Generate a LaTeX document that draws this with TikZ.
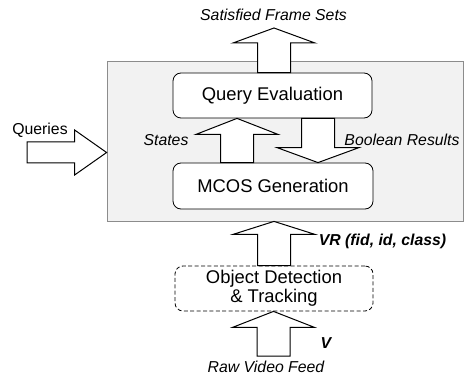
\documentclass[tikz,border=0pt]{standalone}
\usepackage{fontspec}
\setmainfont{Liberation Sans}
\usetikzlibrary{calc,fit,positioning}
\definecolor{enginegrey}{gray}{0.95}
\definecolor{edgegrey}{gray}{0.55}

% block arrow: tail, tip, half shaft width, half head width, head length
\newcommand{\fatarrow}[5]{%
  \coordinate (fah) at ($(#2)!#5!(#1)$);
  \draw[fatline] ($(#1)!#3!90:(#2)$) -- ($(fah)!#3!90:(#2)$) -- ($(fah)!#4!90:(#2)$) -- (#2) -- ($(fah)!#4!-90:(#2)$) -- ($(fah)!#3!-90:(#2)$) -- ($(#1)!#3!-90:(#2)$) -- cycle;}

\begin{document}
\begin{tikzpicture}[x=0.5pt,y=-0.5pt,font=\fontsize{7.9}{9}\selectfont]

\tikzset{stagebox/.style={draw,rounded corners=4pt,fill=white,minimum width=99.5pt,minimum height=22.5pt,inner sep=0pt,align=center,font=\fontsize{9.2}{9.4}\selectfont},
fatline/.style={draw=black,fill=white,line width=0.5pt,line join=miter},
lbl/.style={font=\fontsize{7.9}{9}\selectfont\itshape},
boldlbl/.style={font=\fontsize{7.9}{9}\selectfont\bfseries\itshape}}

\useasboundingbox (0,0) rectangle (464,373);

% Engine area
\coordinate (gTL) at (107,61);
\coordinate (gBR) at (463,221);
\node[fit=(gTL)(gBR),inner sep=0pt,draw=edgegrey,fill=enginegrey] (engine) {};

% Stages
\node[stagebox] (qe) at (272.5,95.5) {Query Evaluation};
\node[stagebox,minimum width=100pt,minimum height=23pt] (mcos) at (273,186) {MCOS Generation};
\node[stagebox,dash pattern=on 2pt off 1.2pt,minimum width=99pt] (od) at (274,288.5) {Object Detection\\\& Tracking};

% Arrow anchors
\coordinate (outTip) at (274,28);
\coordinate (outBase) at (outTip |- qe.north);
\coordinate (statesX) at (237,0);
\coordinate (boolX) at (318,0);
\coordinate (vrX) at (274,0);
\coordinate (rawTail) at (273.5,356);
\coordinate (queryTail) at (27,152.5);
\coordinate (queryTip) at (queryTail -| engine.west);

% Block arrows
\fatarrow{outBase}{outTip}{8.25pt}{20.5pt}{7.5pt}
\fatarrow{statesX |- mcos.north}{statesX |- qe.south}{8.25pt}{20.5pt}{8pt}
\fatarrow{boolX |- qe.south}{boolX |- mcos.north}{8.25pt}{20.5pt}{7.5pt}
\fatarrow{vrX |- od.north}{vrX |- engine.south}{8.25pt}{20.5pt}{6.5pt}
\fatarrow{rawTail}{rawTail |- od.south}{8.25pt}{20.5pt}{8pt}
\fatarrow{queryTail}{queryTip}{5.25pt}{11.25pt}{16pt}

% Labels
\node[lbl] (outLabel) at (273.5,15) {Satisfied Frame Sets};
\node (queryLabel) at (40,130) {Queries};
\node[lbl] (statesLabel) at (166,140) {States};
\node[lbl] (boolLabel) at (402,140) {Boolean Results};
\node[boldlbl] (vrLabel) at (382.5,241) {VR (fid, id, class)};
\node[boldlbl] (vLabel) at (326,343) {V};
\node[lbl] (rawLabel) at (266,367) {Raw Video Feed};

\end{tikzpicture}
\end{document}
